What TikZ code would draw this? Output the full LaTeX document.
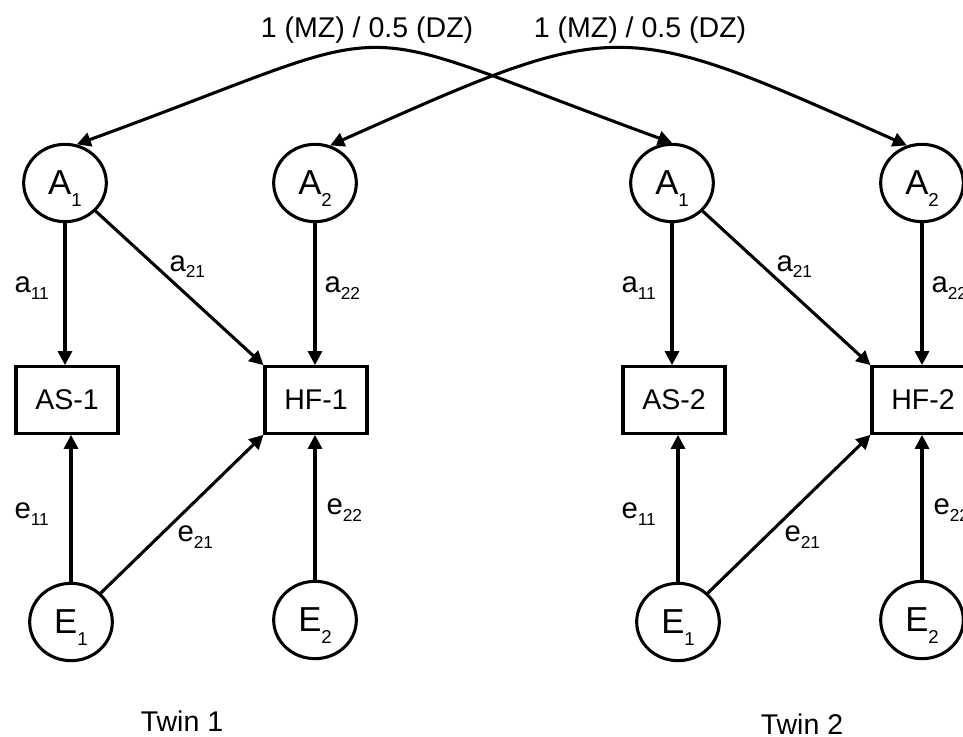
\documentclass[tikz,border=0pt]{standalone}
\usepackage{fontspec}
\setmainfont{Liberation Sans}
\usetikzlibrary{arrows.meta,shapes.geometric}
\newcommand{\vsub}[1]{\raisebox{-9pt}[0pt][0pt]{\fontsize{14}{15}\selectfont #1}}
\newcommand{\csub}[1]{\raisebox{-5pt}[0pt][0pt]{\fontsize{13}{14}\selectfont #1}}
\tikzset{
  latent/.style={draw, ellipse, minimum width=62pt, minimum height=58pt, inner sep=0pt, font=\fontsize{26}{28}\selectfont},
  observed/.style={draw, rectangle, minimum width=76.5pt, minimum height=50pt, inner sep=0pt},
  coef/.style={anchor=west, inner sep=0pt, font=\fontsize{22}{24}\selectfont},
}
\begin{document}
\begin{tikzpicture}[x=0.75pt, y=0.75pt, line width=2.3pt, >={Triangle[length=10.5pt,width=10.5pt]}, font=\fontsize{21.4}{24}\selectfont]
  \useasboundingbox (0,0) rectangle (963,-737);
  \foreach \tw/\dx in {1/0, 2/607} {
    \node[latent] (A1t\tw) at (\dx+65,-183) {A\vsub{1}};
    \node[latent] (A2t\tw) at (\dx+315,-183) {A\vsub{2}};
    \node[observed] (AS\tw) at (\dx+67,-400) {AS-\tw};
    \node[observed] (HF\tw) at (\dx+316,-400) {HF-\tw};
    \node[latent] (E1t\tw) at (\dx+71,-622) {E\vsub{1}};
    \node[latent] (E2t\tw) at (\dx+315,-620) {E\vsub{2}};
    \draw[->] (A1t\tw) -- (A1t\tw |- AS\tw.north);
    \draw[->] (A1t\tw) -- (HF\tw.north west);
    \draw[->] (A2t\tw) -- (A2t\tw |- HF\tw.north);
    \draw[->] (E1t\tw) -- (E1t\tw |- AS\tw.south);
    \draw[->] (E1t\tw) -- (HF\tw.south west);
    \draw[->] (E2t\tw) -- (E2t\tw |- HF\tw.south);
    \node[coef] (a11t\tw) at (\dx+13,-285) {a\csub{11}};
    \node[coef] (a21t\tw) at (\dx+168,-263.5) {a\csub{21}};
    \node[coef] (a22t\tw) at (\dx+323,-285) {a\csub{22}};
    \node[coef] (e11t\tw) at (\dx+13,-511) {e\csub{11}};
    \node[coef] (e21t\tw) at (\dx+176,-534) {e\csub{21}};
    \node[coef] (e22t\tw) at (\dx+325,-507) {e\csub{22}};
  }
  \draw[<->] (A1t1.73) to[out=20, in=160, looseness=1.59] (A1t2.north);
  \draw[<->] (A2t1.68) to[out=24, in=156, looseness=1.41] (A2t2.112);
  \node (corA1) at (367,-30) {1 (MZ) / 0.5 (DZ)};
  \node (corA2) at (640,-30) {1 (MZ) / 0.5 (DZ)};
  \node (twin1) at (182,-721.5) {Twin 1};
  \node (twin2) at (802,-724) {Twin 2};
\end{tikzpicture}
\end{document}
